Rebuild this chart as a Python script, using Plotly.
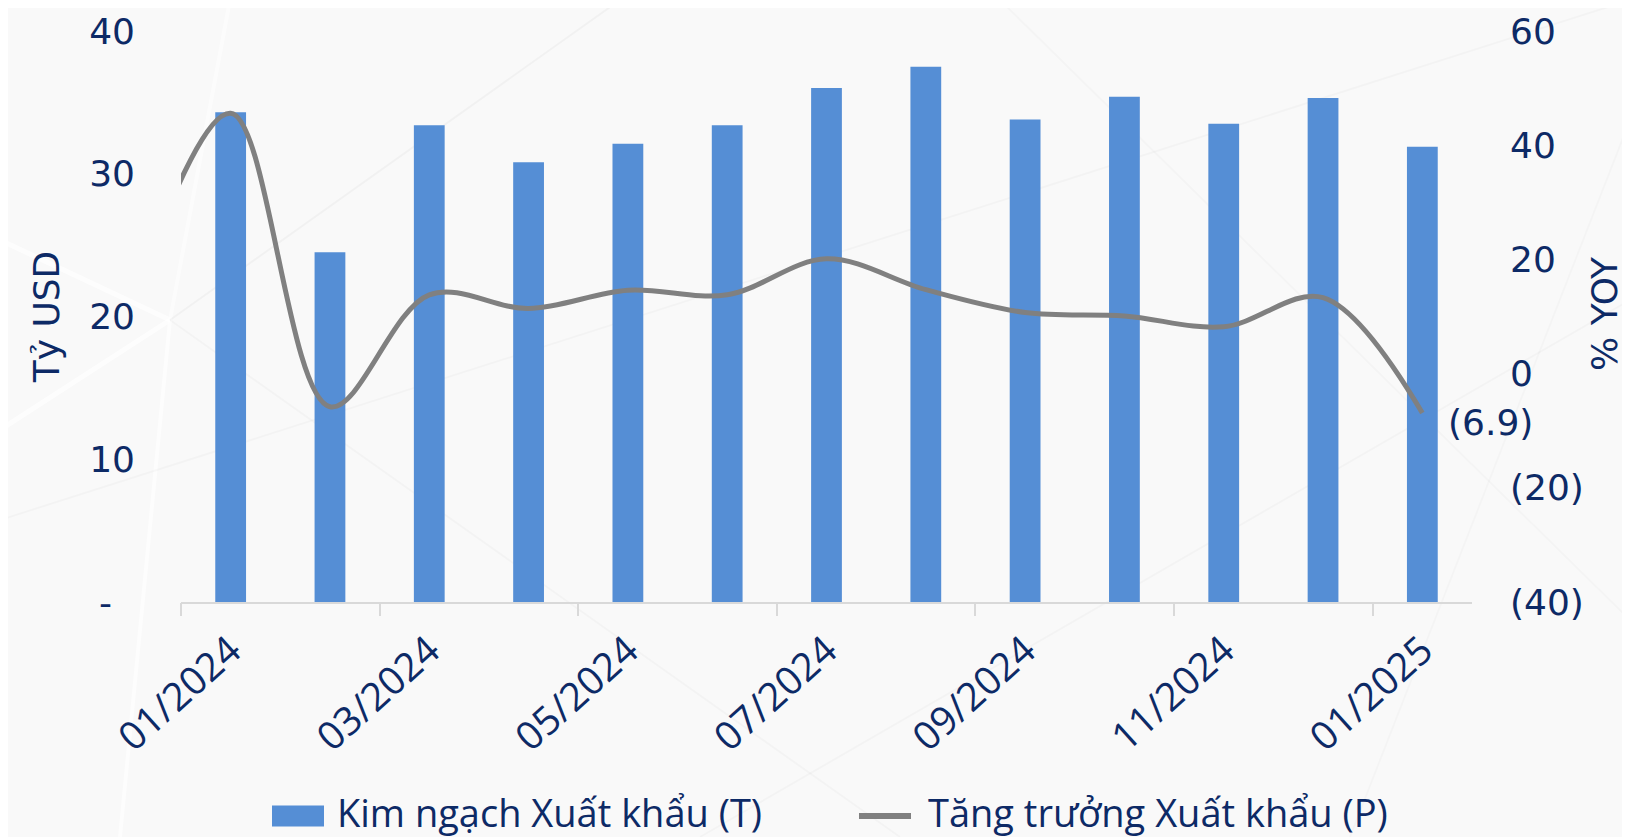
import plotly.graph_objects as go

# Kim ngạch xuất khẩu (tỷ USD) theo tháng
months = ["01/2024", "02/2024", "03/2024", "04/2024", "05/2024", "06/2024", "07/2024",
          "08/2024", "09/2024", "10/2024", "11/2024", "12/2024", "01/2025"]
export_value = [34.3, 24.5, 33.4, 30.8, 32.1, 33.4, 36.0, 37.5, 33.8, 35.4, 33.5, 35.3, 31.9]

# Tăng trưởng xuất khẩu (% YoY), kể cả tháng 12/2023 (chỉ thấy phần đầu đường cong)
growth_months = ["12/2023"] + months
export_growth = [12.0, 45.6, -5.8, 13.8, 11.4, 14.6, 13.8, 20.1, 14.7, 10.7, 10.1, 8.2, 13.3, -6.9]

left_ticks = [0, 10, 20, 30, 40]
right_ticks = [-40, -20, 0, 20, 40, 60]

bar_name = "Kim ngạch Xuất khẩu (T)"
line_name = "Tăng trưởng Xuất khẩu (P)"

NAVY = "#0d2a66"
BLUE = "#558ed5"
GREY = "#808080"
AXIS_FONT = "DejaVu Sans"
TEXT_FONT = "Open Sans"


def acct(v, zero="-"):
    if v == 0:
        return zero
    if v < 0:
        return f"({abs(v):g})"
    return f"{v:g}"


bar_x = list(range(len(months)))
line_x = [i - 1 for i in range(len(growth_months))]

fig = go.Figure()
fig.add_trace(go.Bar(
    x=bar_x, y=export_value, name=bar_name, showlegend=False,
    marker=dict(color=BLUE, line=dict(width=0)), width=0.31,
))
fig.add_trace(go.Scatter(
    x=line_x, y=export_growth, name=line_name, yaxis="y2", showlegend=False,
    mode="lines", line=dict(color=GREY, width=5, shape="spline", smoothing=1.0),
))
# trục phụ chỉ để vẽ vạch chia giữa các cặp tháng
fig.add_trace(go.Scatter(
    x=bar_x, y=[None] * len(bar_x), xaxis="x2", showlegend=False, hoverinfo="skip",
))

# nhãn giá trị cuối của đường tăng trưởng
fig.add_annotation(
    x=line_x[-1], y=export_growth[-1], yref="y2", text=acct(round(export_growth[-1], 1)),
    showarrow=False, xanchor="left", yanchor="middle", xshift=24, yshift=-9,
    font=dict(family=AXIS_FONT, size=36, color=NAVY),
)

# trang HTML có lề body 8px, nên tọa độ trang = tọa độ hình + 8
OFF = 8
W, H = 1630, 837
L, R, T, B = 181 - OFF, 158 + OFF, 31 - OFF, 235 + OFF
pw, ph = W - L - R, H - T - B


def px(x, y):
    # tọa độ pixel trên trang -> tọa độ paper
    return (x - OFF - L) / pw, (H - B - (y - OFF)) / ph


# họa tiết nền mờ
bg_lines = [
    ((170, 320), (0, 240), "rgba(255,255,255,0.7)", 5),
    ((170, 320), (0, 430), "rgba(255,255,255,0.7)", 5),
    ((170, 320), (120, 837), "rgba(255,255,255,0.6)", 4),
    ((170, 320), (230, 0), "rgba(255,255,255,0.5)", 4),
    ((170, 320), (620, 0), "rgba(0,0,0,0.03)", 2),
    ((170, 320), (900, 837), "rgba(0,0,0,0.025)", 2),
    ((0, 520), (1630, 0), "rgba(0,0,0,0.025)", 2),
    ((700, 837), (1630, 300), "rgba(0,0,0,0.025)", 2),
    ((1000, 0), (1630, 620), "rgba(0,0,0,0.02)", 2),
    ((1350, 837), (1630, 120), "rgba(0,0,0,0.02)", 2),
]
for (x0, y0), (x1, y1), col, w in bg_lines:
    a0, b0 = px(x0, y0)
    a1, b1 = px(x1, y1)
    fig.add_shape(type="line", xref="paper", yref="paper", x0=a0, y0=b0, x1=a1, y1=b1,
                  line=dict(color=col, width=w), layer="below")

# tiêu đề trục phải
a0, b0 = px(1604, 314)
fig.add_annotation(x=a0, y=b0, xref="paper", yref="paper", text="% YOY", textangle=-90,
                   showarrow=False, xanchor="center", yanchor="middle",
                   font=dict(family=AXIS_FONT, size=36, color=NAVY))

# chú thích (legend) ở dưới
ly = 816
a0, b0 = px(272, ly - 10.5)
a1, b1 = px(324, ly + 10.5)
fig.add_shape(type="rect", xref="paper", yref="paper", x0=a0, y0=b0, x1=a1, y1=b1,
              fillcolor=BLUE, line=dict(width=0))
a0, b0 = px(859, ly)
a1, _ = px(911, ly)
fig.add_shape(type="line", xref="paper", yref="paper", x0=a0, y0=b0, x1=a1, y1=b0,
              line=dict(color=GREY, width=6))
for x0, name in [(335, bar_name), (926, line_name)]:
    a0, b0 = px(x0, ly - 4)
    fig.add_annotation(x=a0, y=b0, xref="paper", yref="paper", text=name, showarrow=False,
                       xanchor="left", yanchor="middle",
                       font=dict(family=TEXT_FONT, size=38, color=NAVY))

fig.update_layout(
    width=W, height=H,
    margin=dict(l=L, r=R, t=T, b=B, autoexpand=False),
    paper_bgcolor="#f9f9f9", plot_bgcolor="rgba(0,0,0,0)",
    showlegend=False,
    xaxis=dict(
        range=[-0.5, len(months) - 0.5], automargin=False,
        tickvals=bar_x[::2], ticktext=months[::2], tickangle=-42,
        ticks="outside", ticklen=8, tickcolor="rgba(0,0,0,0)",
        tickfont=dict(family=TEXT_FONT, size=39, color=NAVY),
        showline=True, linecolor="#d9d9d9", linewidth=2,
        showgrid=False, zeroline=False,
    ),
    xaxis2=dict(
        range=[-0.5, len(months) - 0.5], overlaying="x", anchor="y", side="bottom",
        automargin=False,
        tickvals=[v - 0.5 for v in bar_x[::2][:-1] + [bar_x[-1]]],
        ticks="outside", ticklen=13, tickcolor="#d9d9d9", tickwidth=2,
        showticklabels=False, showline=False, showgrid=False, zeroline=False,
    ),
    yaxis=dict(
        range=[0, 40], automargin=False,
        tickvals=left_ticks, ticktext=[acct(v, "-\u2007") for v in left_ticks],
        tickfont=dict(family=AXIS_FONT, size=36, color=NAVY), ticklabelstandoff=45,
        showgrid=False, zeroline=False, showline=False,
        title=dict(text="Tỷ USD", font=dict(family=AXIS_FONT, size=36, color=NAVY), standoff=18),
    ),
    yaxis2=dict(
        range=[-40, 60], overlaying="y", side="right", automargin=False,
        tickvals=right_ticks, ticktext=[acct(v, "0") for v in right_ticks],
        tickfont=dict(family=AXIS_FONT, size=36, color=NAVY), ticklabelstandoff=37,
        showgrid=False, zeroline=False, showline=False,
    ),
)

fig.write_html("out.html")
